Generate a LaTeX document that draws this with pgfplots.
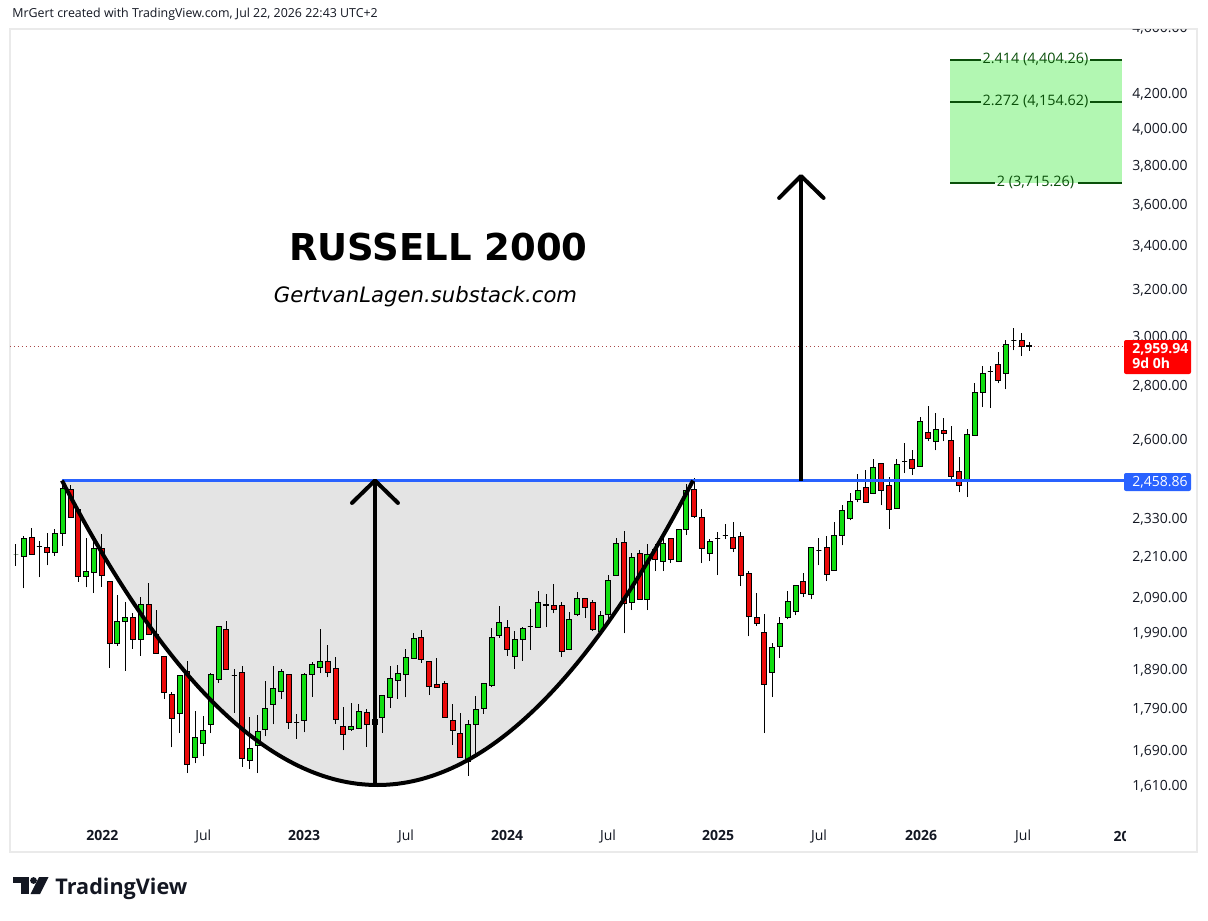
\documentclass[border=0pt]{standalone}
\usepackage{fontspec}
\setmainfont{Open Sans}
\newfontfamily\dejavu{DejaVu Sans}
\usepackage{pgfplots}
\usepackage{pgfplotstable}
\pgfplotsset{compat=1.18}
\definecolor{cgreen}{RGB}{17,222,17}
\definecolor{cred}{RGB}{235,10,10}
\definecolor{cupgray}{RGB}{228,228,228}
\definecolor{tvblue}{RGB}{41,98,255}
\definecolor{fibfill}{RGB}{178,247,178}
\definecolor{fibdark}{RGB}{10,80,10}
\definecolor{tvtext}{RGB}{19,23,34}
\definecolor{framec}{RGB}{234,234,234}
\definecolor{plred}{RGB}{255,0,0}
\definecolor{pline}{RGB}{170,70,70}

\pgfplotstableread{
i o h l c
1 2218 2252 2185 2218
2 2213 2277 2118 2270
3 2273 2302 2219 2220
4 2244 2262 2150 2244
5 2242 2286 2186 2227
6 2227 2299 2216 2286
7 2286 2459 2246 2431
8 2430 2444 2336 2337
9 2363 2364 2138 2152
10 2152 2270 2121 2169
11 2166 2267 2104 2238
12 2238 2284 2123 2155
13 2139 2140 1898 1963
14 1963 2099 1956 2024
15 2023 2078 1890 2035
16 2035 2046 1948 1974
17 1974 2093 1929 2072
18 2072 2133 1986 1987
19 1987 2056 1935 1936
20 1927 1928 1817 1834
21 1829 1836 1699 1769
22 1782 1878 1733 1878
23 1888 1915 1640 1660
24 1676 1788 1662 1723
25 1709 1775 1678 1740
26 1755 1885 1733 1880
27 1866 2011 1858 2010
28 2001 2024 1893 1894
29 1877 1894 1783 1877
30 1886 1902 1654 1674
31 1669 1772 1649 1697
32 1703 1777 1640 1738
33 1743 1863 1725 1794
34 1804 1902 1754 1844
35 1837 1894 1817 1888
36 1880 1881 1744 1760
37 1759 1779 1719 1759
38 1764 1885 1735 1880
39 1880 1912 1823 1907
40 1899 2001 1883 1915
41 1915 1958 1872 1886
42 1896 1925 1755 1767
43 1750 1796 1692 1730
44 1743 1806 1739 1750
45 1745 1804 1742 1787
46 1784 1792 1701 1755
47 1755 1785 1735 1767
48 1772 1827 1734 1826
49 1822 1902 1794 1870
50 1865 1904 1817 1883
51 1880 1947 1821 1925
52 1923 1992 1920 1977
53 1979 1999 1911 1920
54 1915 1916 1827 1848
55 1855 1923 1846 1847
56 1857 1863 1771 1772
57 1764 1805 1706 1740
58 1733 1782 1675 1676
59 1666 1764 1634 1755
60 1755 1825 1678 1792
61 1794 1858 1780 1857
62 1851 2004 1847 1979
63 1985 2067 1977 2021
64 2007 2026 1929 1947
65 1928 1996 1895 1974
66 1974 2007 1916 2004
67 2010 2058 1946 2010
68 2007 2110 2006 2078
69 2070 2102 2007 2069
70 2069 2130 2046 2058
71 2069 2078 1927 1941
72 1946 2049 1944 2029
73 2043 2107 2038 2089
74 2089 2090 2032 2063
75 2078 2084 1997 2001
76 1996 2052 1990 2040
77 2043 2157 2015 2142
78 2157 2270 2156 2254
79 2258 2292 1990 2075
80 2078 2223 2055 2211
81 2223 2233 2085 2086
82 2086 2251 2055 2220
83 2236 2251 2169 2205
84 2199 2283 2169 2254
85 2270 2271 2193 2205
86 2199 2299 2196 2298
87 2299 2446 2280 2426
88 2430 2466 2334 2340
89 2337 2363 2193 2239
90 2223 2267 2199 2261
91 2270 2289 2157 2270
92 2280 2315 2267 2280
93 2273 2321 2227 2239
94 2276 2289 2124 2157
95 2163 2169 1982 2038
96 2035 2104 2010 2018
97 1993 2043 1733 1855
98 1886 1963 1822 1952
99 1955 2035 1923 2018
100 2034 2110 2029 2080
101 2052 2128 2040 2127
102 2139 2163 2092 2104
103 2101 2243 2086 2242
104 2233 2270 2186 2233
105 2242 2276 2139 2160
106 2172 2321 2171 2280
107 2280 2376 2248 2360
108 2334 2416 2327 2390
109 2396 2481 2386 2426
110 2436 2494 2385 2386
111 2416 2533 2413 2505
112 2518 2519 2376 2426
113 2443 2470 2299 2363
114 2366 2533 2365 2515
115 2526 2589 2484 2526
116 2533 2564 2477 2501
117 2508 2684 2507 2669
118 2629 2726 2596 2607
119 2597 2699 2564 2640
120 2636 2681 2596 2625
121 2600 2651 2463 2474
122 2491 2540 2419 2443
123 2459 2640 2403 2622
124 2618 2814 2617 2779
125 2779 2881 2722 2853
126 2859 2881 2718 2859
127 2889 2937 2813 2825
128 2853 2986 2790 2970
129 2986 3036 2945 2986
130 2986 3015 2921 2962
131 2964 2978 2944 2959.94
}\candles

\begin{document}
\begin{tikzpicture}
\begin{scope}[x=0.5pt,y=-0.5pt]
  \fill[white] (0,0) rectangle (1208,920);
  \path[use as bounding box] (0,0) rectangle (1208,920);
  \draw[framec, line width=1pt] (10,29) rectangle (1197,852);
  \node[anchor=base west, inner sep=0pt, text=tvtext, font=\fontsize{6.2pt}{7pt}\selectfont] at (12,18) {MrGert created with TradingView.com, Jul 22, 2026 22:43 UTC+2};
  % logo
  \fill[tvtext] (13,877) rectangle (29,882.5);
  \fill[tvtext] (21,877) rectangle (29,894);
  \fill[tvtext] (33.5,880.5) circle (3.4);
  \fill[tvtext] (39,877) -- (48.5,877) -- (40,894) -- (30.5,894) -- cycle;
  \node[anchor=base west, inner sep=0pt, text=tvtext, font=\bfseries\fontsize{10.8pt}{12pt}\selectfont] at (55,894) {TradingView};
\end{scope}

\begin{axis}[
  at={(5pt,-410pt)}, anchor=south west,
  scale only axis, width=557.5pt, height=395.5pt,
  xmin=0.2303, xmax=143.27,
  ymode=log, ymin=1536.7, ymax=4596,
  axis line style={draw=none},
  tick style={draw=none},
  major tick length=0pt, minor tick length=0pt,
  yminorticks=false, xminorticks=false,
  ytick={1610,1690,1790,1890,1990,2090,2210,2330,2600,2800,3000,3200,3400,3600,3800,4000,4200},
  yticklabels={{1,610.00},{1,690.00},{1,790.00},{1,890.00},{1,990.00},{2,090.00},{2,210.00},{2,330.00},{2,600.00},{2,800.00},{3,000.00},{3,200.00},{3,400.00},{3,600.00},{3,800.00},{4,000.00},{4,200.00}},
  yticklabel pos=right,
  yticklabel style={anchor=west, inner sep=0pt, xshift=3.5pt, font=\fontsize{7pt}{8pt}\selectfont, text=tvtext},
  xtick={12.07,25.03,37.95,51.03,63.99,76.95,91.06,104.01,117.1,130.2},
  xticklabels={\textbf{2022},Jul,\textbf{2023},Jul,\textbf{2024},Jul,\textbf{2025},Jul,\textbf{2026},Jul},
  xticklabel style={anchor=base, inner sep=0pt, yshift=-10.5pt, font=\fontsize{7pt}{8pt}\selectfont, text=tvtext},
  clip=true,
]
% cup area
\fill[cupgray] (axis cs:6.9,2458.86) .. controls (axis cs:33.88,1401.4) and (axis cs:60.87,1401.4) .. (axis cs:87.85,2458.86) -- cycle;
% last price line
\addplot[pline, line width=0.5pt, dash pattern=on 0.6pt off 1.4pt, forget plot] coordinates {(0.2303,2959.94) (143.27,2959.94)};
% fib box
\addplot[fill=fibfill, draw=none, forget plot] coordinates {(120.82,3715.26) (142.88,3715.26) (142.88,4404.26) (120.82,4404.26)} -- cycle;
% candles
\pgfplotstablegetrowsof{\candles}
\pgfmathtruncatemacro{\nrows}{\pgfplotsretval-1}
\pgfplotsforeachungrouped \r in {0,...,\nrows}{%
  \pgfplotstablegetelem{\r}{i}\of\candles \let\ci\pgfplotsretval
  \pgfplotstablegetelem{\r}{o}\of\candles \let\co\pgfplotsretval
  \pgfplotstablegetelem{\r}{h}\of\candles \let\ch\pgfplotsretval
  \pgfplotstablegetelem{\r}{l}\of\candles \let\cl\pgfplotsretval
  \pgfplotstablegetelem{\r}{c}\of\candles \let\cc\pgfplotsretval
  \pgfmathsetmacro{\xa}{\ci-0.32}%
  \pgfmathsetmacro{\xb}{\ci+0.32}%
  \pgfmathtruncatemacro{\dn}{\cc<\co}%
  \ifnum\dn=1 \def\cfill{cred}\else\def\cfill{cgreen}\fi
  \edef\temp{%
    \noexpand\addplot[black, line width=0.5pt, forget plot] coordinates {(\ci,\cl) (\ci,\ch)};
    \noexpand\addplot[fill=\cfill, draw=black, line width=0.5pt, forget plot] coordinates {(\xa,\co) (\xb,\co) (\xb,\cc) (\xa,\cc)} -- cycle;
  }%
  \temp
}
% resistance line
\addplot[tvblue, line width=1.5pt, forget plot] coordinates {(6.9,2458.86) (143.27,2458.86)};
% cup curve
\draw[black, line width=2pt] (axis cs:6.9,2458.86) .. controls (axis cs:33.88,1401.4) and (axis cs:60.87,1401.4) .. (axis cs:87.85,2458.86);
% arrows
\addplot[black, line width=2pt, forget plot] coordinates {(47.05,1610) (47.05,2458.86)};
\addplot[black, line width=2pt, line join=round, line cap=round, forget plot] coordinates {(44.1,2383.7) (47.05,2458.86) (50.0,2383.7)};
\addplot[black, line width=2pt, forget plot] coordinates {(101.7,2458.86) (101.7,3749.5)};
\addplot[black, line width=2pt, line join=round, line cap=round, forget plot] coordinates {(98.9,3636.9) (101.7,3749.5) (104.6,3636.9)};
% fib lines
\addplot[fibdark, line width=1pt, forget plot] coordinates {(120.82,4404.26) (124.80,4404.26)};
\addplot[fibdark, line width=1pt, forget plot] coordinates {(138.78,4404.26) (142.88,4404.26)};
\addplot[fibdark, line width=1pt, forget plot] coordinates {(120.82,4154.62) (124.80,4154.62)};
\addplot[fibdark, line width=1pt, forget plot] coordinates {(138.78,4154.62) (142.88,4154.62)};
\addplot[fibdark, line width=1pt, forget plot] coordinates {(120.82,3715.26) (126.59,3715.26)};
\addplot[fibdark, line width=1pt, forget plot] coordinates {(137.24,3715.26) (142.88,3715.26)};
\node[text=fibdark, inner sep=0pt, font=\fontsize{7.2pt}{8pt}\selectfont] at (axis cs:131.79,4404.26) {2.414 (4,404.26)};
\node[text=fibdark, inner sep=0pt, font=\fontsize{7.2pt}{8pt}\selectfont] at (axis cs:131.79,4154.62) {2.272 (4,154.62)};
\node[text=fibdark, inner sep=0pt, font=\fontsize{7.2pt}{8pt}\selectfont] at (axis cs:131.79,3715.26) {2 (3,715.26)};
\end{axis}

\begin{scope}[x=0.5pt,y=-0.5pt]
  % clipped labels at the edges
  \begin{scope}
    \clip (1126,29.5) rectangle (1196,60);
    \node[anchor=west, inner sep=0pt, text=tvtext, font=\fontsize{7pt}{8pt}\selectfont] at (1132,28.4) {4,600.00};
  \end{scope}
  \begin{scope}
    \clip (1000,822) rectangle (1125,851);
    \node[anchor=base, inner sep=0pt, text=tvtext, font=\bfseries\fontsize{7pt}{8pt}\selectfont] at (1129.5,841) {2027};
  \end{scope}
  % price labels
  \fill[plred, rounded corners=1pt] (1124,340) rectangle (1191,374);
  \node[anchor=base west, inner sep=0pt, text=white, font=\bfseries\fontsize{7pt}{8pt}\selectfont] at (1132,353) {2,959.94};
  \node[anchor=base west, inner sep=0pt, text=white, font=\bfseries\fontsize{7pt}{8pt}\selectfont] at (1132,368) {9d 0h};
  \fill[tvblue, rounded corners=1pt] (1124,473) rectangle (1191,491);
  \node[anchor=base west, inner sep=0pt, text=white, font=\fontsize{7pt}{8pt}\selectfont] at (1132,486) {2,458.86};
  % titles
  \node[anchor=base, inner sep=0pt, text=black, font=\dejavu\bfseries\fontsize{18.5pt}{20pt}\selectfont] at (438.3,260) {RUSSELL 2000};
  \node[anchor=base, inner sep=0pt, text=black, font=\dejavu\itshape\fontsize{10.6pt}{12pt}\selectfont] at (425.5,302) {GertvanLagen.substack.com};
\end{scope}
\end{tikzpicture}
\end{document}
